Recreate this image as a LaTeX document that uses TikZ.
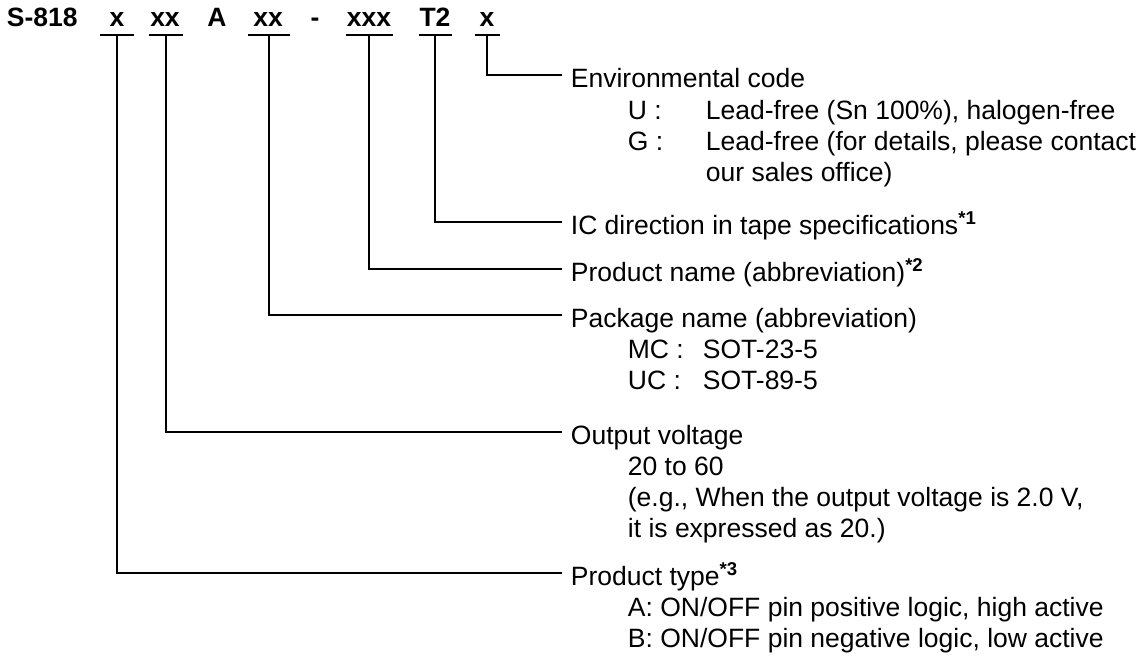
\documentclass[tikz,border=0pt]{standalone}
\usepackage{fontspec}
\setmainfont{Liberation Sans}
\usetikzlibrary{positioning}

\begin{document}
\begin{tikzpicture}[x=1pt,y=-1pt,line width=1.8pt,
    font=\fontsize{26.5}{31}\selectfont,
    codetxt/.style={anchor=base,inner sep=0pt,font=\fontsize{26.5}{31}\selectfont\bfseries},
    title/.style={anchor=west,inner sep=0pt,text height=24pt,text depth=0pt},
    item/.style={anchor=base west,inner sep=0pt}]
    \useasboundingbox (0,0) rectangle (1147,656);

    \node[codetxt,anchor=base west,name=s818] at (6,26) {S-818};
    \node[codetxt,name=ctype] at (117,26) {x};
    \node[codetxt,name=cvolt] at (165,26) {xx};
    \node[codetxt,name=ca] at (217,26) {A};
    \node[codetxt,name=cpkg] at (268,26) {xx};
    \node[codetxt,name=cdash] at (315,26) {-};
    \node[codetxt,name=cname] at (369,26) {xxx};
    \node[codetxt,name=ctape] at (435,26) {T2};
    \node[codetxt,name=cenv] at (487,26) {x};

    \coordinate (btype) at (117,35);
    \coordinate (bvolt) at (166,35);
    \coordinate (bpkg) at (269,35);
    \coordinate (bname) at (369,35);
    \coordinate (btape) at (435,35);
    \coordinate (benv) at (487,35);

    \draw ([xshift=-17pt]btype) -- ([xshift=17pt]btype);
    \draw ([xshift=-17pt]bvolt) -- ([xshift=17pt]bvolt);
    \draw ([xshift=-21pt]bpkg) -- ([xshift=21pt]bpkg);
    \draw ([xshift=-23pt]bname) -- ([xshift=24pt]bname);
    \draw ([xshift=-16pt]btape) -- ([xshift=17pt]btape);
    \draw ([xshift=-12pt]benv) -- ([xshift=13pt]benv);

    \node[title,name=lenv] at (570,75) {Environmental code};
    \node[item,name=envu] at ([xshift=57pt,yshift=-32pt]lenv.base west)
        {\makebox[78pt][l]{U :}Lead-free (Sn 100\%), halogen-free};
    \node[item,name=envg] at ([yshift=-31pt]envu.base west)
        {\makebox[78pt][l]{G :}Lead-free (for details, please contact};
    \node[item,name=envg2] at ([xshift=78pt,yshift=-31pt]envg.base west) {our sales office)};

    \node[title,name=ltape] at (570,222) {IC direction in tape specifications\textsuperscript{\textbf{*1}}};
    \node[title,name=lname] at (570,269) {Product name (abbreviation)\textsuperscript{\textbf{*2}}};

    \node[title,name=lpkg] at (570,315) {Package name (abbreviation)};
    \node[item,name=pkgmc] at ([xshift=57pt,yshift=-31pt]lpkg.base west)
        {\makebox[75pt][l]{MC :}SOT-23-5};
    \node[item,name=pkguc] at ([yshift=-31pt]pkgmc.base west)
        {\makebox[75pt][l]{UC :}SOT-89-5};

    \node[title,name=lvolt] at (570,432) {Output voltage};
    \node[item,name=voltr] at ([xshift=57pt,yshift=-31pt]lvolt.base west) {20 to 60};
    \node[item,name=volte] at ([yshift=-31pt]voltr.base west) {(e.g., When the output voltage is 2.0 V,};
    \node[item,name=volte2] at ([yshift=-31pt]volte.base west) {it is expressed as 20.)};

    \node[title,name=ltype] at (570,573) {Product type\textsuperscript{\textbf{*3}}};
    \node[item,name=typea] at ([xshift=57pt,yshift=-31pt]ltype.base west) {A: ON/OFF pin positive logic, high active};
    \node[item,name=typeb] at ([yshift=-31pt]typea.base west) {B: ON/OFF pin negative logic, low active};

    \draw (benv) |- ([xshift=-8pt]lenv.west);
    \draw (btape) |- ([xshift=-8pt]ltape.west);
    \draw (bname) |- ([xshift=-8pt]lname.west);
    \draw (bpkg) |- ([xshift=-8pt]lpkg.west);
    \draw (bvolt) |- ([xshift=-8pt]lvolt.west);
    \draw (btype) |- ([xshift=-8pt]ltype.west);
\end{tikzpicture}
\end{document}
